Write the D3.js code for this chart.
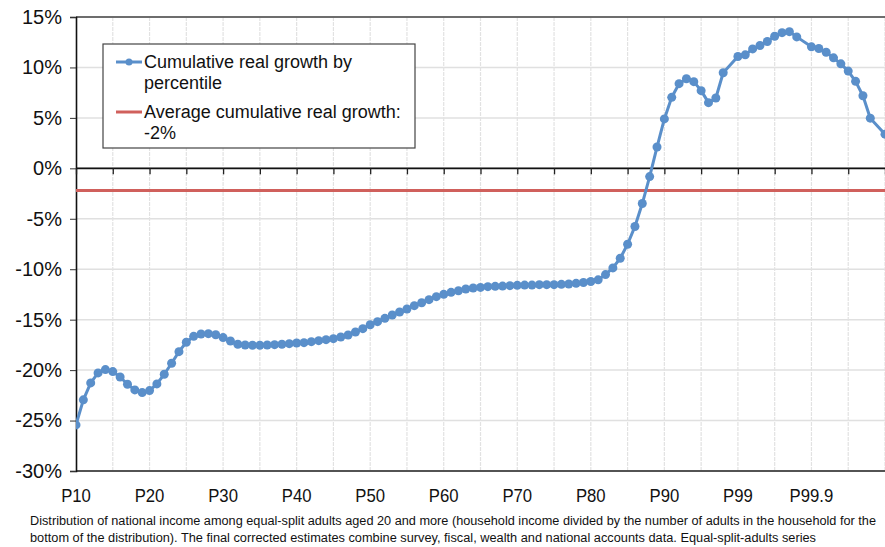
<!DOCTYPE html>
<html><head><meta charset="utf-8">
<script src="https://cdn.jsdelivr.net/npm/d3@7/dist/d3.min.js"></script>
<style>body{margin:0;background:#fff}svg{display:block}</style>
</head><body>
<svg id="c" width="885" height="547"></svg>
<script>
// cumulative real growth (%) by percentile group, in chart order (null = no marker/point)
const growth = [
 -25.43,-22.95,-21.27,-20.28,-19.95,-20.15,-20.68,-21.40,-21.96,-22.23,
 -22.03,-21.37,-20.41,-19.32,-18.17,-17.24,-16.65,-16.42,-16.39,-16.49,
 -16.78,-17.11,-17.44,-17.51,-17.54,-17.54,-17.51,-17.48,-17.44,-17.38,
 -17.31,-17.28,-17.18,-17.08,-16.98,-16.88,-16.72,-16.52,-16.22,-15.89,
 -15.50,-15.20,-14.87,-14.54,-14.24,-13.94,-13.61,-13.32,-13.02,-12.72,
 -12.49,-12.29,-12.13,-11.96,-11.86,-11.80,-11.73,-11.70,-11.67,-11.63,
 -11.60,-11.57,-11.57,-11.53,-11.53,-11.53,-11.50,-11.47,-11.40,-11.32,
 -11.22,-11.05,-10.53,-9.87,-8.91,-7.53,-5.76,-3.49,-0.82,2.11,
 4.90,7.04,8.39,8.88,8.59,7.70,6.51,6.97,9.47,null,
 11.09,11.25,11.84,12.17,12.57,13.09,13.45,13.55,13.03,null,
 12.04,11.88,11.51,10.95,10.36,9.64,8.62,7.20,4.97,null,
 3.39
];
const averageGrowth = -2.2;
const tickLabels = ["P10","P20","P30","P40","P50","P60","P70","P80","P90","P99","P99.9"];
const yTicks = [15,10,5,0,-5,-10,-15,-20,-25,-30];
const legendLabels = [["Cumulative real growth by","percentile"],["Average cumulative real growth:","-2%"]];
const footnote = ["Distribution of national income among equal-split adults aged 20 and more (household income divided by the number of adults in the household for the",
 "bottom of the distribution). The final corrected estimates combine survey, fiscal, wealth and national accounts data. Equal-split-adults series"];

const svg = d3.select("#c");
const L = 76, R = 885, T = 17, B = 471;
const x = d3.scaleLinear().domain([0, growth.length - 1]).range([L, R]);
const y = d3.scaleLinear().domain([-30, 15]).range([B, T]);
const blue = "#5a8fca", red = "#d0605c";
const font = "Liberation Sans, Arial, sans-serif";

svg.append("clipPath").attr("id","pc").append("rect")
  .attr("x", L).attr("y", T - 6).attr("width", R - L + 6).attr("height", B - T + 12);

// grid
const g = svg.append("g");
g.selectAll(".hg").data(yTicks).join("line")
  .attr("x1", L).attr("x2", R).attr("y1", d => y(d)).attr("y2", d => y(d))
  .attr("stroke", "#e0e0e0").attr("stroke-width", 1.5);
const vIdx = d3.range(5, growth.length, 5);
g.selectAll(".vg").data(vIdx).join("line")
  .attr("x1", d => x(d)).attr("x2", d => x(d)).attr("y1", T).attr("y2", B)
  .attr("stroke", "#e2e2e2").attr("stroke-width", 1.2).attr("stroke-dasharray", "4,1");

// borders
svg.append("line").attr("x1", L).attr("x2", R).attr("y1", T).attr("y2", T).attr("stroke", "#444").attr("stroke-width", 1.5);
svg.append("line").attr("x1", L).attr("x2", R).attr("y1", B).attr("y2", B).attr("stroke", "#222").attr("stroke-width", 1.5);

// y axis
const ya = svg.append("g").attr("transform", `translate(${L},0)`)
  .call(d3.axisLeft(y).tickValues(yTicks).tickSize(6).tickFormat(d => d + "%"));
ya.select(".domain").attr("stroke", "#111").attr("stroke-width", 1.6);
ya.selectAll(".tick line").attr("stroke", "#333");
ya.selectAll("text").attr("font-family", font).attr("font-size", 20).attr("fill", "#111").attr("x", -14);

// x axis at 0%
const xa = svg.append("g").attr("transform", `translate(0,${y(0)})`)
  .call(d3.axisBottom(x).tickValues(d3.range(0, growth.length, 5)).tickSize(6).tickFormat(""));
xa.select(".domain").attr("stroke", "#111").attr("stroke-width", 1.6).attr("d", `M${L},0H${R}`);
xa.selectAll(".tick line").attr("stroke", "#222").attr("stroke-width", 1.3);

// x labels at bottom
svg.append("g").selectAll("text").data(tickLabels).join("text")
  .attr("x", (d, i) => x(i * 10)).attr("y", 502).attr("text-anchor", "middle")
  .attr("font-family", font).attr("font-size", 19).attr("fill", "#111")
  .attr("transform", (d, i) => `translate(${x(i * 10)},0) scale(0.88,1) translate(${-x(i * 10)},0)`)
  .text(d => d);

// average line
const plot = svg.append("g").attr("clip-path", "url(#pc)");
plot.append("line").attr("x1", L).attr("x2", R).attr("y1", y(averageGrowth)).attr("y2", y(averageGrowth))
  .attr("stroke", red).attr("stroke-width", 3);

// growth series
const pts = growth.map((v, i) => ({i, v})).filter(d => d.v !== null);
plot.append("path").datum(pts)
  .attr("d", d3.line().x(d => x(d.i)).y(d => y(d.v)))
  .attr("fill", "none").attr("stroke", blue).attr("stroke-width", 3).attr("stroke-linejoin", "round");
plot.selectAll(".m").data(pts).join("circle")
  .attr("cx", d => x(d.i)).attr("cy", d => y(d.v)).attr("r", 4.5).attr("fill", blue);

// legend
const lg = svg.append("g");
lg.append("rect").attr("x", 103).attr("y", 44).attr("width", 312).attr("height", 104)
  .attr("fill", "#fff").attr("stroke", "#444").attr("stroke-width", 1.2);
const ly = [62, 112];
lg.append("line").attr("x1", 116).attr("x2", 142).attr("y1", ly[0]).attr("y2", ly[0]).attr("stroke", blue).attr("stroke-width", 3);
lg.append("circle").attr("cx", 129).attr("cy", ly[0]).attr("r", 3.5).attr("fill", blue);
lg.append("line").attr("x1", 116).attr("x2", 142).attr("y1", ly[1]).attr("y2", ly[1]).attr("stroke", red).attr("stroke-width", 3);
legendLabels.forEach((lines, k) => {
  const t = lg.append("text").attr("font-family", font).attr("font-size", 18).attr("fill", "#111");
  lines.forEach((s, j) => t.append("tspan").attr("x", 144).attr("y", ly[k] + 6 + j * 21).text(s));
});

// footnote
const fw = [846, 786];
svg.append("g").selectAll("text").data(footnote).join("text")
  .attr("x", 30).attr("y", (d, i) => 525 + i * 17)
  .attr("font-family", font).attr("font-size", 12.5).attr("fill", "#111")
  .attr("textLength", (d, i) => fw[i]).attr("lengthAdjust", "spacingAndGlyphs")
  .text(d => d);
</script>
</body></html>
